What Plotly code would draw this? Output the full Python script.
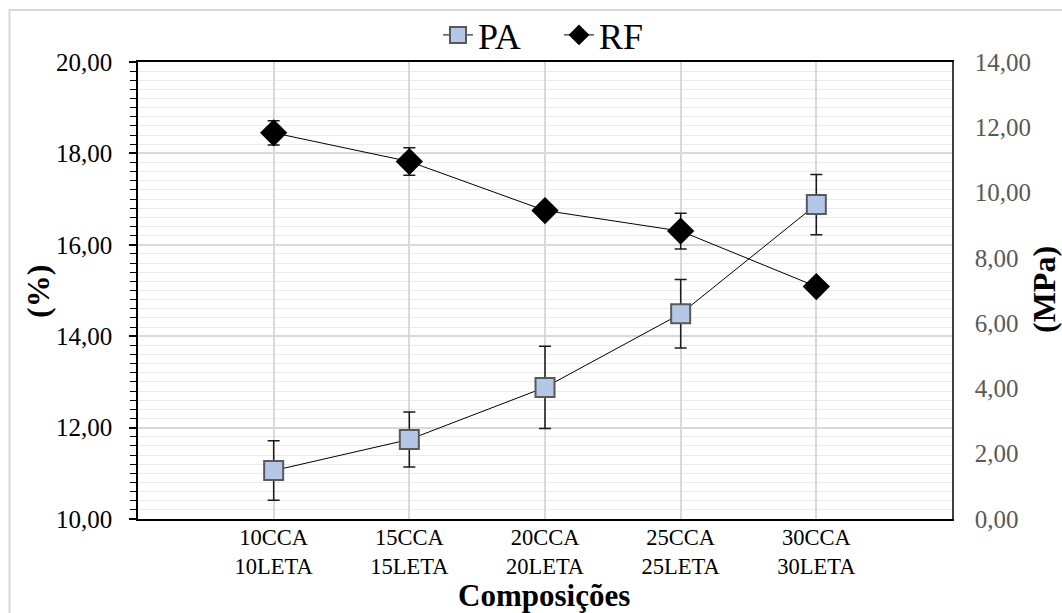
import plotly.graph_objects as go

categories = ["10CCA<br>10LETA", "15CCA<br>15LETA", "20CCA<br>20LETA", "25CCA<br>25LETA", "30CCA<br>30LETA"]
pa_values = [11.06, 11.74, 12.88, 14.49, 16.88]
pa_errors = [0.65, 0.60, 0.90, 0.75, 0.66]
rf_values = [11.83, 10.95, 9.45, 8.82, 7.12]
rf_errors = [0.37, 0.42, 0.10, 0.55, 0.10]
left_ticks = [10, 12, 14, 16, 18, 20]
left_ticktext = ["10,00", "12,00", "14,00", "16,00", "18,00", "20,00"]
right_ticks = [0, 2, 4, 6, 8, 10, 12, 14]
right_ticktext = ["0,00", "2,00", "4,00", "6,00", "8,00", "10,00", "12,00", "14,00"]

FONT = "Liberation Serif, Times New Roman, serif"

fig = go.Figure()
fig.add_trace(go.Scatter(
    x=categories, y=pa_values, name="PA", mode="lines+markers",
    line=dict(color="black", width=1),
    marker=dict(symbol="square", size=19, color="#B4C7E7", line=dict(color="#595959", width=2)),
    error_y=dict(type="data", array=pa_errors, color="#1a1a1a", thickness=1.5, width=6),
    yaxis="y",
))
fig.add_trace(go.Scatter(
    x=categories, y=rf_values, name="RF", mode="lines+markers",
    line=dict(color="black", width=1),
    marker=dict(symbol="diamond", size=21, color="black", line=dict(color="black", width=0)),
    error_y=dict(type="data", array=rf_errors, color="#1a1a1a", thickness=1.5, width=6),
    yaxis="y2",
))

fig.update_layout(
    width=1062, height=613,
    margin=dict(l=138, r=110, t=62, b=94, autoexpand=False),
    paper_bgcolor="white", plot_bgcolor="white",
    font=dict(family=FONT, color="black", size=24),
    showlegend=True,
    legend=dict(orientation="h", x=(438 - 138) / 814, xanchor="left", y=(519 - 35) / 457, yanchor="middle",
                font=dict(size=36, family=FONT), bgcolor="rgba(0,0,0,0)", itemwidth=30,
                entrywidth=76, entrywidthmode="pixels"),
    xaxis=dict(
        type="category", range=[-1, 5],
        showgrid=True, gridcolor="#D9D9D9", gridwidth=1.5,
        showline=True, linecolor="black", linewidth=1.5, mirror=True,
        ticks="", tickfont=dict(size=22.5, family=FONT, color="black"),
        ticklabelstandoff=-3,
        zeroline=False,
    ),
    yaxis=dict(
        range=[10, 20], tickvals=left_ticks, ticktext=left_ticktext,
        showgrid=True, gridcolor="#D9D9D9", gridwidth=1.5,
        showline=True, linecolor="black", linewidth=1.5,
        ticks="outside", ticklen=7, tickcolor="black", tickwidth=1.5,
        tickfont=dict(size=25, family=FONT, color="black"),
        ticklabelstandoff=12,
        minor=dict(dtick=0.2, showgrid=True, gridcolor="#EAEAEA", gridwidth=1,
                   ticks="outside", ticklen=6, tickcolor="black", tickwidth=1.2),
        zeroline=False,
    ),
    yaxis2=dict(
        range=[0, 14], tickvals=right_ticks, ticktext=right_ticktext,
        overlaying="y", side="right",
        showgrid=False, showline=True, linecolor="#404040", linewidth=1.5,
        ticks="", tickfont=dict(size=25, family=FONT, color="#595959"),
        ticklabelstandoff=16,
        zeroline=False,
    ),
    annotations=[
        dict(text="<b>Composições</b>", xref="paper", yref="paper", x=(544 - 138) / 814, y=(519 - 595) / 457,
             xanchor="center", yanchor="middle", showarrow=False,
             font=dict(size=31, family=FONT, color="black")),
        dict(text="<b>(%)</b>", xref="paper", yref="paper", x=(38 - 138) / 814, y=(519 - 292) / 457,
             xanchor="center", yanchor="middle", showarrow=False, textangle=-90,
             font=dict(size=32, family=FONT, color="black")),
        dict(text="<b>(MPa)</b>", xref="paper", yref="paper", x=(1044 - 138) / 814, y=(519 - 290) / 457,
             xanchor="center", yanchor="middle", showarrow=False, textangle=-90,
             font=dict(size=32, family=FONT, color="black")),
    ],
    shapes=[
        dict(type="rect", xref="paper", yref="paper",
             x0=(9.5 - 138) / 814, x1=(1080 - 138) / 814,
             y0=(519 - 640) / 457, y1=(519 - 10) / 457,
             line=dict(color="#D9D9D9", width=2), fillcolor="rgba(0,0,0,0)", layer="below"),
    ],
)

fig.write_html("out.html")
